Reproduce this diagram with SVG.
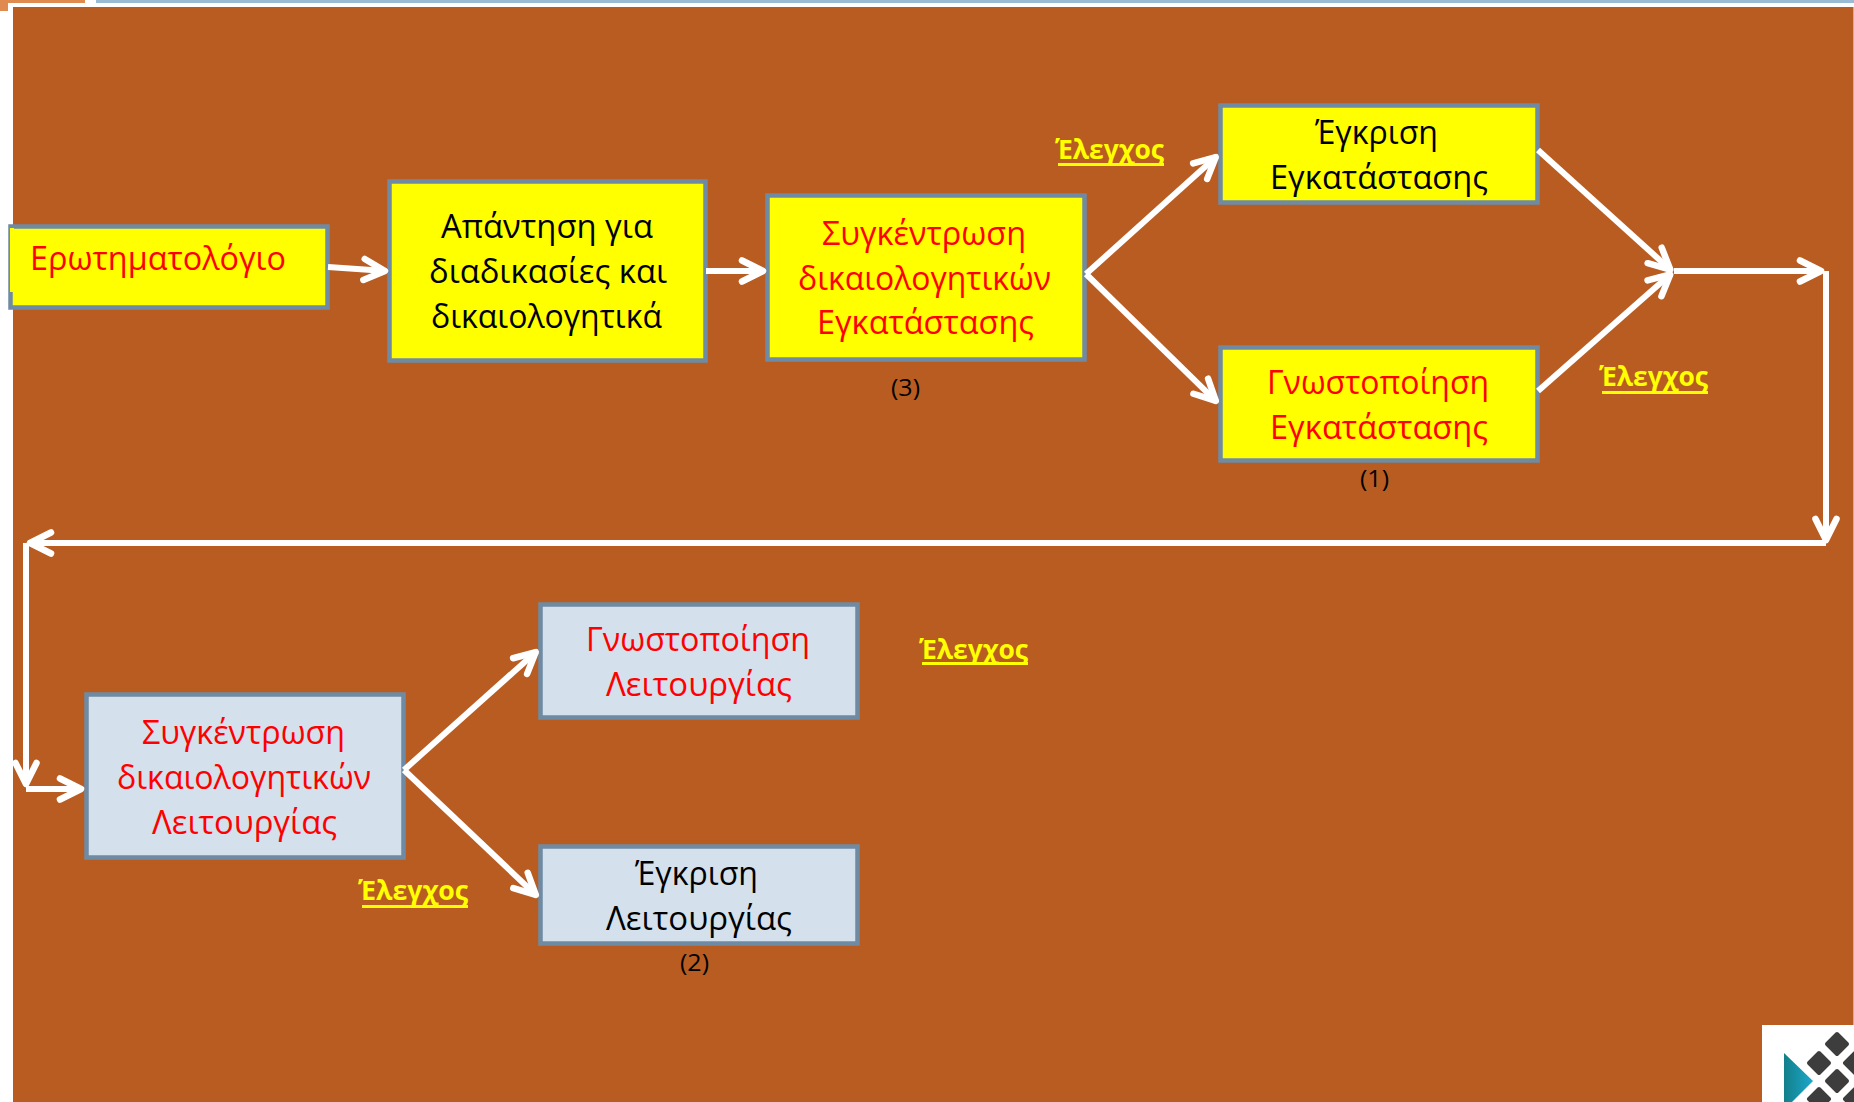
<svg xmlns="http://www.w3.org/2000/svg" width="1854" height="1102" viewBox="0 0 1854 1102">
<style>
text{font-family:"Open Sans","Noto Sans","DejaVu Sans",sans-serif}
.t{font-size:33px}
.r{fill:#ff0000}
.k{fill:#000000}
.n{font-size:23px;fill:#000000}
.c{font-size:26px;font-weight:700;fill:#ffff00}
.u{fill:#ffff00}
.y{fill:#ffff00;stroke:#6f8aa3;stroke-width:4.500}
.b{fill:#d4e1ed;stroke:#6f8aa3;stroke-width:4.500}
.e{fill:none;stroke:#ffffff;stroke-width:6;marker-end:url(#a)}
.d{fill:#3d3d3d;stroke:#3d3d3d;stroke-width:4;stroke-linejoin:round}
</style>
<defs>
<marker id="a" markerUnits="userSpaceOnUse" markerWidth="60" markerHeight="60" refX="30" refY="30" orient="auto" overflow="visible">
<path d="M8,19.5 L29,30 L8,40.5" fill="none" stroke="#ffffff" stroke-width="6.5" stroke-linecap="round" stroke-linejoin="round"/>
</marker>
<linearGradient id="g" x1="0" y1="0" x2="1" y2="0"><stop offset="0" stop-color="#137f8a"/><stop offset="1" stop-color="#1ba8cb"/></linearGradient>
</defs>
<rect x="0" y="0" width="1854" height="1102" fill="#ffffff"/>
<rect x="13" y="7" width="1840" height="1095" fill="#b85c22"/>
<rect x="1853" y="7" width="1" height="1095" fill="#e6a684"/>
<path d="M0,0H85V3H8V11H0Z" fill="#e08a50"/>
<rect x="96" y="0" width="1758" height="3" fill="#9abbd4"/>

<g id="n1">
<rect class="y" x="10.500" y="226.500" width="317" height="81"/>
<rect x="10" y="228" width="4" height="64" fill="#ffff00"/>
<text class="t r" x="30" y="270" textLength="256" lengthAdjust="spacingAndGlyphs">Ερωτηματολόγιο</text>
</g>
<g id="n2">
<rect class="y" x="389.500" y="181.500" width="316" height="179"/>
<text class="t k" x="441" y="238" textLength="212" lengthAdjust="spacingAndGlyphs">Απάντηση για</text>
<text class="t k" x="429" y="283" textLength="238" lengthAdjust="spacingAndGlyphs">διαδικασίες και</text>
<text class="t k" x="431" y="328" textLength="231" lengthAdjust="spacingAndGlyphs">δικαιολογητικά</text>
</g>
<g id="n3">
<rect class="y" x="767.500" y="195.500" width="317" height="164"/>
<text class="t r" x="822" y="245" textLength="204" lengthAdjust="spacingAndGlyphs">Συγκέντρωση</text>
<text class="t r" x="798" y="290" textLength="253" lengthAdjust="spacingAndGlyphs">δικαιολογητικών</text>
<text class="t r" x="817" y="334" textLength="217" lengthAdjust="spacingAndGlyphs">Εγκατάστασης</text>
<text class="n" x="891" y="396" textLength="29" lengthAdjust="spacingAndGlyphs">(3)</text>
</g>
<g id="n4">
<rect class="y" x="1220.500" y="105.500" width="317" height="97"/>
<text class="t k" x="1315" y="144" textLength="123" lengthAdjust="spacingAndGlyphs">Έγκριση</text>
<text class="t k" x="1270" y="189" textLength="218" lengthAdjust="spacingAndGlyphs">Εγκατάστασης</text>
</g>
<g id="n5">
<rect class="y" x="1220.500" y="347.500" width="317" height="113"/>
<text class="t r" x="1267" y="394" textLength="222" lengthAdjust="spacingAndGlyphs">Γνωστοποίηση</text>
<text class="t r" x="1270" y="439" textLength="218" lengthAdjust="spacingAndGlyphs">Εγκατάστασης</text>
<text class="n" x="1360" y="487" textLength="29" lengthAdjust="spacingAndGlyphs">(1)</text>
</g>
<g id="n6">
<rect class="b" x="540.500" y="604.500" width="317" height="113"/>
<text class="t r" x="586" y="651" textLength="224" lengthAdjust="spacingAndGlyphs">Γνωστοποίηση</text>
<text class="t r" x="606" y="696" textLength="186" lengthAdjust="spacingAndGlyphs">Λειτουργίας</text>
</g>
<g id="n7">
<rect class="b" x="540.500" y="846.500" width="317" height="97"/>
<text class="t k" x="635" y="885" textLength="123" lengthAdjust="spacingAndGlyphs">Έγκριση</text>
<text class="t k" x="606" y="930" textLength="186" lengthAdjust="spacingAndGlyphs">Λειτουργίας</text>
<text class="n" x="680" y="971" textLength="29" lengthAdjust="spacingAndGlyphs">(2)</text>
</g>
<g id="n8">
<rect class="b" x="86.500" y="694.500" width="317" height="163"/>
<text class="t r" x="142" y="744" textLength="203" lengthAdjust="spacingAndGlyphs">Συγκέντρωση</text>
<text class="t r" x="117" y="789" textLength="254" lengthAdjust="spacingAndGlyphs">δικαιολογητικών</text>
<text class="t r" x="152" y="834" textLength="185" lengthAdjust="spacingAndGlyphs">Λειτουργίας</text>
</g>

<g id="connectors">
<path class="e" d="M328,267 L386,271"/>
<path class="e" d="M706,271 L764,271"/>
<path class="e" d="M1086,274 L1216.500,156.400"/>
<path class="e" d="M1086,274 L1216.500,401.600"/>
<path class="e" d="M1538,150 L1671,270.200"/>
<path class="e" d="M1538,391 L1671,273.800"/>
<path class="e" d="M1674,271 L1822,271"/>
<path class="e" d="M1826,271 L1826,541"/>
<path class="e" d="M1826,543 L29,543"/>
<path class="e" d="M26,543 L26,785"/>
<path class="e" d="M26,789 L82,789"/>
<path class="e" d="M404,770 L536.500,651.400"/>
<path class="e" d="M404,770 L536.500,895.600"/>
</g>

<g id="c1"><text class="c" x="1055" y="159" textLength="109" lengthAdjust="spacingAndGlyphs">Έλεγχος</text><rect class="u" x="1058" y="163" width="106" height="3"/></g>
<g id="c2"><text class="c" x="1599" y="386" textLength="109" lengthAdjust="spacingAndGlyphs">Έλεγχος</text><rect class="u" x="1602" y="391" width="106" height="3"/></g>
<g id="c3"><text class="c" x="919" y="659" textLength="109" lengthAdjust="spacingAndGlyphs">Έλεγχος</text><rect class="u" x="922" y="662" width="106" height="3"/></g>
<g id="c4"><text class="c" x="358" y="900" textLength="110" lengthAdjust="spacingAndGlyphs">Έλεγχος</text><rect class="u" x="362" y="905" width="106" height="3"/></g>

<g id="logo">
<rect x="1762" y="1025" width="92" height="77" fill="#ffffff"/>
<path d="M1784,1053 L1813,1081 L1784,1110Z" fill="url(#g)"/>
<path class="d" d="M1837,1034 L1847,1044 L1837,1054 L1827,1044Z"/>
<path class="d" d="M1819,1053 L1829,1063 L1819,1073 L1809,1063Z"/>
<path class="d" d="M1837,1071 L1847,1081 L1837,1091 L1827,1081Z"/>
<path class="d" d="M1819,1089 L1829,1099 L1819,1109 L1809,1099Z"/>
<path class="d" d="M1855,1053 L1865,1063 L1855,1073 L1845,1063Z"/>
<path class="d" d="M1855,1089 L1865,1099 L1855,1109 L1845,1099Z"/>
</g>
</svg>
